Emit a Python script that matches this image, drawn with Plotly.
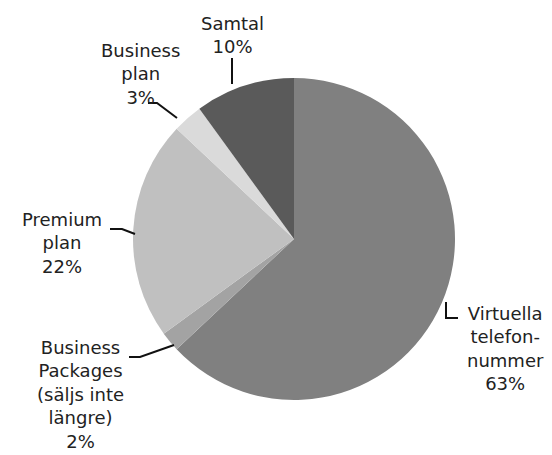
import plotly.graph_objects as go

# --- DADOS ---
names = ["Virtuella<br>telefon-<br>nummer", "Business<br>Packages<br>(säljs inte<br>längre)",
         "Premium<br>plan", "Business<br>plan", "Samtal"]
values = [63, 2, 22, 3, 10]
colors = ["#808080", "#a3a3a3", "#c0c0c0", "#dadada", "#5a5a5a"]

W, H = 552, 455


def px2paper(x, y):
    return x / W, 1 - y / H


fig = go.Figure(go.Pie(
    values=values,
    labels=names,
    marker=dict(colors=colors, line=dict(width=0)),
    sort=False,
    direction="clockwise",
    rotation=0,
    textinfo="none",
    hoverinfo="label+percent",
    domain=dict(x=[(294 - 161) / W, (294 + 161) / W], y=[1 - 400 / H, 1 - 78 / H]),
    showlegend=False,
))

# etiquetas (centro do bloco de texto, em pixels)
label_pos = [(505, 348), (80, 394), (62, 243), (140, 74), (232, 35)]
# linhas de chamada (pixels)
leaders = [
    [(446, 302), (446, 318), (458, 318)],
    [(129, 357), (140, 357), (174, 345)],
    [(110, 229), (122, 229), (135, 234)],
    [(148, 103), (157, 103), (177, 118)],
    [(232, 84), (232, 58)],
]

for name, v, (x, y) in zip(names, values, label_pos):
    xp, yp = px2paper(x, y)
    fig.add_annotation(x=xp, y=yp, xref="paper", yref="paper", showarrow=False,
                       xanchor="center", yanchor="middle",
                       text=f"{name}<br>{v}%", align="center",
                       font=dict(size=18, color="#222222"))

for pts in leaders:
    path = "M " + " L ".join(f"{px2paper(x, y)[0]},{px2paper(x, y)[1]}" for x, y in pts)
    fig.add_shape(type="path", path=path, xref="paper", yref="paper",
                  line=dict(color="#111111", width=2))

fig.update_layout(
    width=W, height=H,
    margin=dict(l=0, r=0, t=0, b=0),
    paper_bgcolor="white",
    font=dict(family="DejaVu Sans, sans-serif"),
)

fig.write_html("out.html", config={"displayModeBar": False},
               post_script="document.body.style.margin='0';")
